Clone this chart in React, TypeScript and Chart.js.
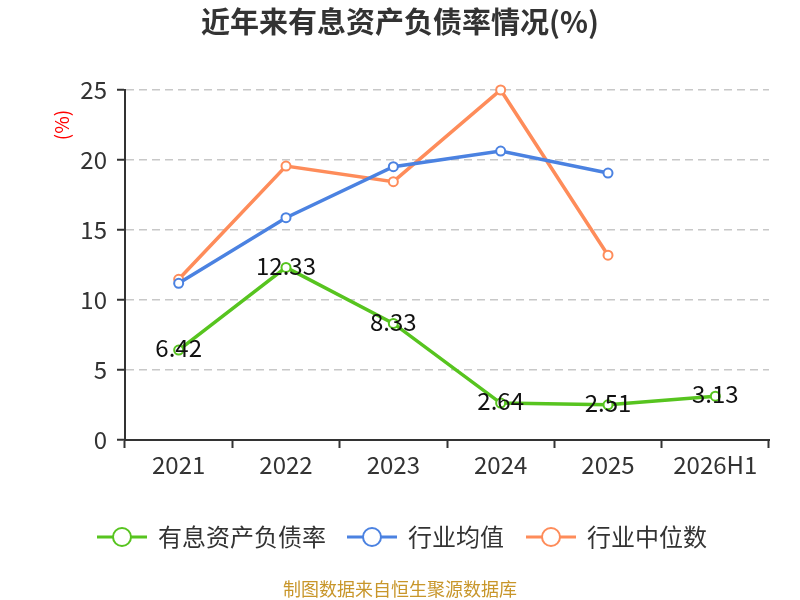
import { useEffect, useRef } from "react"
import { Chart, registerables, type ChartConfiguration, type Plugin } from "chart.js"

Chart.register(...registerables)

const categories = ["2021", "2022", "2023", "2024", "2025", "2026H1"]
const debtRatio = [6.42, 12.33, 8.33, 2.64, 2.51, 3.13]
const industryAvg = [11.19, 15.88, 19.52, 20.64, 19.07, null]
const industryMedian = [11.48, 19.57, 18.45, 25.0, 13.2, null]

const seriesNames = ["有息资产负债率", "行业均值", "行业中位数"]
const seriesColors = ["#57c41f", "#4b82e1", "#fe8c5a"]

const FONT = '"Noto Sans CJK SC", "Noto Sans", sans-serif'

// draws title, unit label, custom legend, footer and value labels
const decorations: Plugin<"line"> = {
  id: "decorations",
  afterDatasetsDraw(chart) {
    const ctx = chart.ctx
    const meta = chart.getDatasetMeta(0)
    ctx.save()
    ctx.fillStyle = "#111"
    ctx.font = `24px ${FONT}`
    ctx.textAlign = "center"
    ctx.textBaseline = "middle"
    meta.data.forEach((pt, i) => {
      ctx.fillText(debtRatio[i].toFixed(2), pt.x, pt.y - 2)
    })
    ctx.restore()
  },
  afterDraw(chart) {
    const ctx = chart.ctx
    ctx.save()

    // title
    ctx.fillStyle = "#333"
    ctx.font = `bold 29px ${FONT}`
    ctx.textAlign = "center"
    ctx.textBaseline = "middle"
    ctx.fillText("近年来有息资产负债率情况(%)", 400, 22)

    // unit
    ctx.save()
    ctx.translate(62, 125)
    ctx.rotate(-Math.PI / 2)
    ctx.fillStyle = "#ff0000"
    ctx.font = `19px ${FONT}`
    ctx.fillText("(%)", 0, 0)
    ctx.restore()

    // legend
    const lineStarts = [97, 347, 526]
    ctx.font = `24px ${FONT}`
    ctx.textAlign = "left"
    seriesNames.forEach((name, i) => {
      const x0 = lineStarts[i]
      const y = 537
      ctx.strokeStyle = seriesColors[i]
      ctx.lineWidth = 3
      ctx.beginPath()
      ctx.moveTo(x0, y)
      ctx.lineTo(x0 + 50, y)
      ctx.stroke()
      ctx.beginPath()
      ctx.arc(x0 + 25, y, 9, 0, Math.PI * 2)
      ctx.fillStyle = "#fff"
      ctx.fill()
      ctx.lineWidth = 2
      ctx.stroke()
      ctx.fillStyle = "#333"
      ctx.fillText(name, x0 + 61, y)
    })

    // footer
    ctx.fillStyle = "#c8962a"
    ctx.font = `18px ${FONT}`
    ctx.textAlign = "center"
    ctx.fillText("制图数据来自恒生聚源数据库", 400, 589)
    ctx.restore()
  },
}

const makeDataset = (label: string, data: (number | null)[], color: string) => ({
  label,
  data,
  borderColor: color,
  backgroundColor: "#fff",
  borderWidth: 3.5,
  pointRadius: 4.5,
  pointBorderWidth: 2,
  pointBackgroundColor: "#fff",
  pointBorderColor: color,
  clip: false as const,
  tension: 0,
})

export default function App() {
  const canvasRef = useRef<HTMLCanvasElement>(null)

  useEffect(() => {
    document.body.style.margin = "0"
    if (!canvasRef.current) return

    const config: ChartConfiguration<"line"> = {
      type: "line",
      data: {
        labels: categories,
        datasets: [
          makeDataset(seriesNames[0], debtRatio, seriesColors[0]),
          makeDataset(seriesNames[1], industryAvg, seriesColors[1]),
          makeDataset(seriesNames[2], industryMedian, seriesColors[2]),
        ],
      },
      options: {
        responsive: false,
        animation: false,
        layout: { padding: { top: 90, right: 31, bottom: 110, left: 0 } },
        plugins: {
          legend: { display: false },
          title: { display: false },
          tooltip: { enabled: false },
        },
        scales: {
          x: {
            offset: true,
            grid: {
              offset: true,
              drawOnChartArea: false,
              drawTicks: true,
              tickLength: 8,
              tickColor: "#333",
              tickWidth: 2,
            },
            border: { color: "#333", width: 2 },
            ticks: { color: "#333", font: { family: FONT, size: 24 }, padding: 2 },
            afterFit: (scale) => {
              scale.height = 50
            },
          },
          y: {
            min: 0,
            max: 25,
            grid: {
              color: "#c8c8c8",
              lineWidth: 1.5,
              tickLength: 8,
              tickColor: "#333",
              tickWidth: 2,
            },
            border: { color: "#333", width: 2, dash: [8, 5] },
            ticks: {
              stepSize: 5,
              color: "#333",
              font: { family: FONT, size: 24 },
              padding: 10,
            },
            afterFit: (scale) => {
              scale.width = 125
            },
          },
        },
      },
      plugins: [decorations],
    }

    const chart = new Chart(canvasRef.current, config)
    return () => chart.destroy()
  }, [])

  return (
    <div style={{ width: 800, height: 600 }}>
      <canvas ref={canvasRef} width={800} height={600}></canvas>
    </div>
  )
}
